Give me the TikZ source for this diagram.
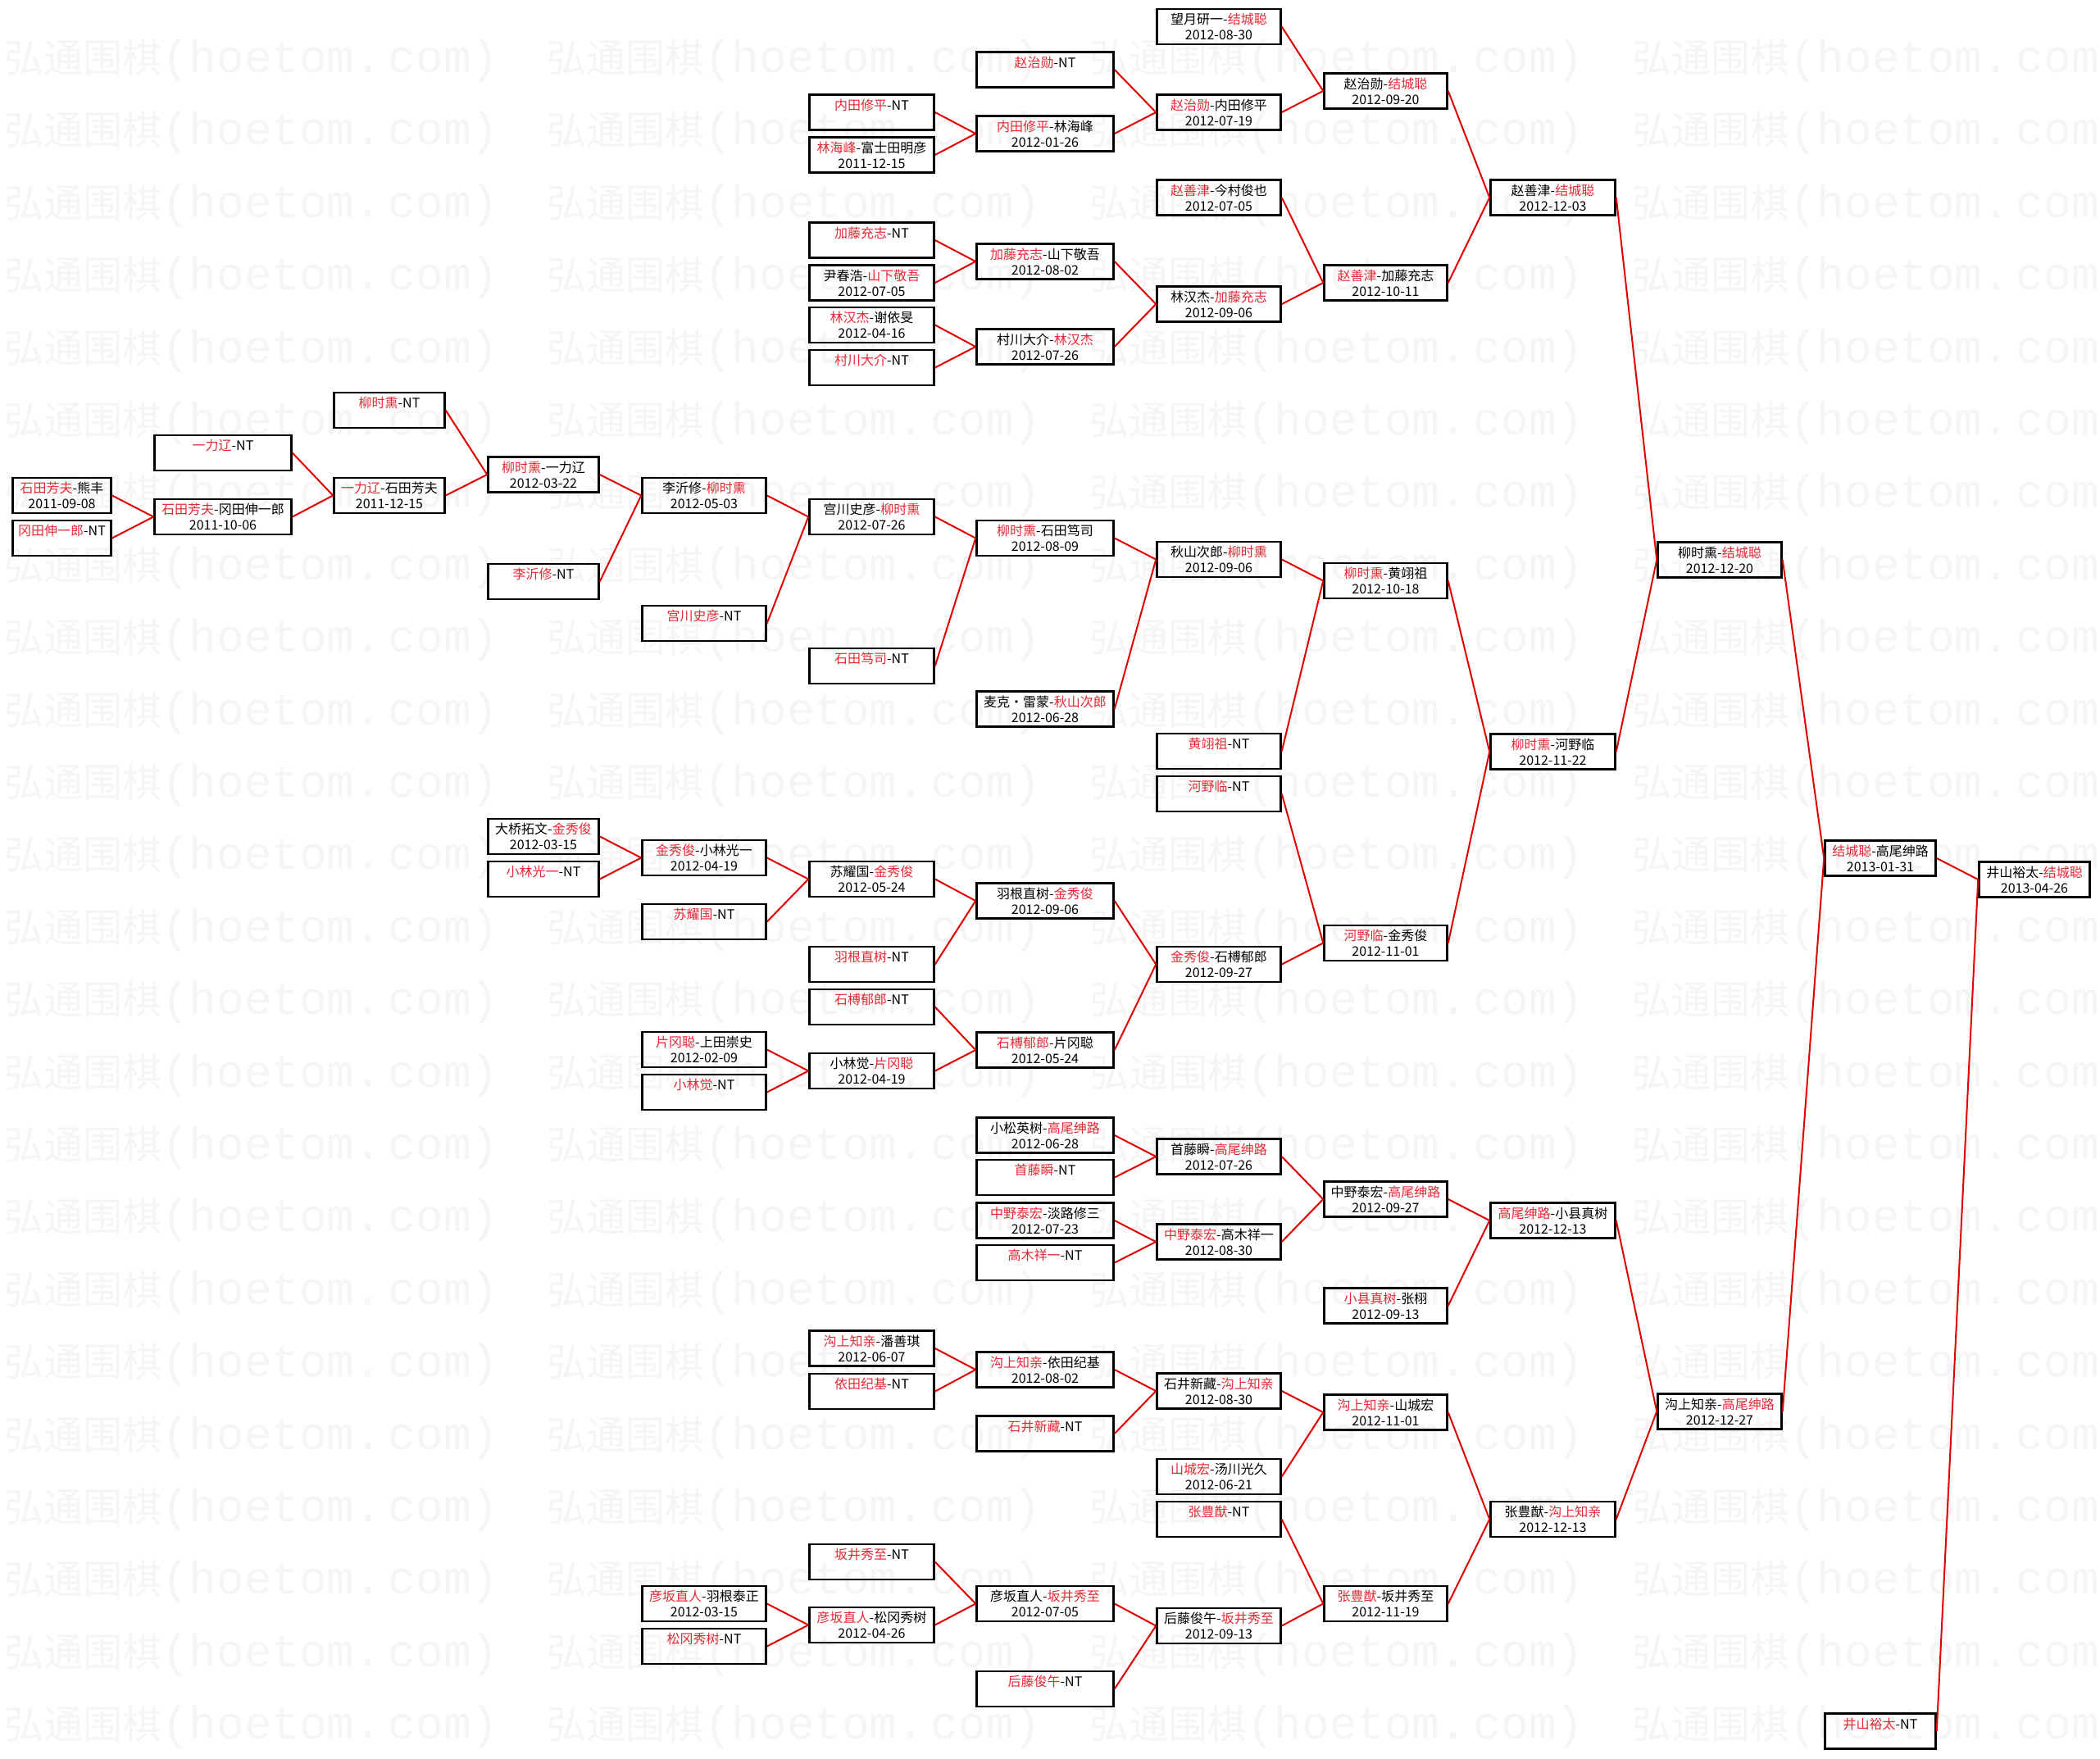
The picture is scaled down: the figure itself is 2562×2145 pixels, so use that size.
\documentclass[tikz,border=0pt]{standalone}
\usepackage{fontspec}
\setmainfont{Noto Sans CJK SC}
\newfontfamily\wmcjk{Noto Sans CJK SC}
\newfontfamily\wmlatin{Liberation Mono}
\definecolor{winred}{RGB}{228,40,52}
\definecolor{linkred}{RGB}{225,0,0}
\newcommand{\wn}[1]{\textcolor{winred}{#1}}
\begin{document}
\begin{tikzpicture}[x=1pt, y=-1pt,
    game/.style={draw, line width=2.5pt, minimum height=43pt, inner sep=0pt, align=center,
      font=\fontsize{16}{19}\selectfont},
    link/.style={draw=linkred, line width=2pt},
    wmark/.style={anchor=west, inner sep=0pt, text=black!4}]
  \fill[white] (0,0) rectangle (2562,2145);
  \useasboundingbox (0,0) rectangle (2562,2145);
  \clip (0,0) rectangle (2562,2145);
  \foreach \r in {0,...,23}
    \foreach \k in {0,...,3}
      \node[wmark] (w\r-\k) at (5+662*\k, 74+88.4*\r)
        {{\wmcjk\fontsize{48}{48}\selectfont 弘通围棋}{\wmlatin\fontsize{56}{56}\selectfont (hoetom.\hspace{8pt}com)}};
  % round 1
  \foreach \n/\y/\txt in {a1/604.5/{\wn{石田芳夫}-熊丰\\2011-09-08}, a2/656.5/{\wn{冈田伸一郎}-NT\\\mbox{}}}
    \node[game, minimum width=120pt] (\n) at (75.5,\y) {\txt};
  \foreach \n/\y/\txt in {b1/552.5/{\wn{一力辽}-NT\\\mbox{}}, b2/630.5/{\wn{石田芳夫}-冈田伸一郎\\2011-10-06}}
    \node[game, minimum width=167pt] (\n) at (272,\y) {\txt};
  \foreach \n/\y/\txt in {c1/500.5/{\wn{柳时熏}-NT\\\mbox{}}, c2/604.5/{\wn{一力辽}-石田芳夫\\2011-12-15}}
    \node[game, minimum width=135pt] (\n) at (475,\y) {\txt};
  \foreach \n/\y/\txt in {d1/579/{\wn{柳时熏}-一力辽\\2012-03-22}, d2/709.5/{\wn{李沂修}-NT\\\mbox{}},
      d3/1020.5/{大桥拓文-\wn{金秀俊}\\2012-03-15}, d4/1072.5/{\wn{小林光一}-NT\\\mbox{}}}
    \node[game, minimum width=135pt] (\n) at (663,\y) {\txt};
  \foreach \n/\y/\txt in {e1/604.5/{李沂修-\wn{柳时熏}\\2012-05-03}, e2/760.5/{\wn{宫川史彦}-NT\\\mbox{}},
      e3/1046.5/{\wn{金秀俊}-小林光一\\2012-04-19}, e4/1124.5/{\wn{苏耀国}-NT\\\mbox{}},
      e5/1280.5/{\wn{片冈聪}-上田崇史\\2012-02-09}, e6/1332.5/{\wn{小林觉}-NT\\\mbox{}},
      e7/1956.5/{\wn{彦坂直人}-羽根泰正\\2012-03-15}, e8/2008.5/{\wn{松冈秀树}-NT\\\mbox{}}}
    \node[game, minimum width=151pt] (\n) at (859,\y) {\txt};
  \foreach \n/\y/\txt in {f1/137/{\wn{内田修平}-NT\\\mbox{}}, f2/189/{\wn{林海峰}-富士田明彦\\2011-12-15},
      f3/293/{\wn{加藤充志}-NT\\\mbox{}}, f4/345/{尹春浩-\wn{山下敬吾}\\2012-07-05},
      f5/396.5/{\wn{林汉杰}-谢依旻\\2012-04-16}, f6/448.5/{\wn{村川大介}-NT\\\mbox{}},
      f7/630.5/{宫川史彦-\wn{柳时熏}\\2012-07-26}, f8/812.5/{\wn{石田笃司}-NT\\\mbox{}},
      f9/1072.5/{苏耀国-\wn{金秀俊}\\2012-05-24}, f10/1176.5/{\wn{羽根直树}-NT\\\mbox{}},
      f11/1228.5/{\wn{石榑郁郎}-NT\\\mbox{}}, f12/1306.5/{小林觉-\wn{片冈聪}\\2012-04-19},
      f13/1645/{\wn{沟上知亲}-潘善琪\\2012-06-07}, f14/1697.5/{\wn{依田纪基}-NT\\\mbox{}},
      f15/1905.5/{\wn{坂井秀至}-NT\\\mbox{}}, f16/1982.5/{\wn{彦坂直人}-松冈秀树\\2012-04-26}}
    \node[game, minimum width=152pt] (\n) at (1063.5,\y) {\txt};
  \foreach \n/\y/\txt in {g1/85/{\wn{赵治勋}-NT\\\mbox{}}, g2/163/{\wn{内田修平}-林海峰\\2012-01-26},
      g3/319/{\wn{加藤充志}-山下敬吾\\2012-08-02}, g4/423/{村川大介-\wn{林汉杰}\\2012-07-26},
      g5/656.5/{\wn{柳时熏}-石田笃司\\2012-08-09}, g6/865/{麦克·雷蒙-\wn{秋山次郎}\\2012-06-28},
      g7/1099/{羽根直树-\wn{金秀俊}\\2012-09-06}, g8/1281/{\wn{石榑郁郎}-片冈聪\\2012-05-24},
      g9/1385/{小松英树-\wn{高尾绅路}\\2012-06-28}, g10/1436.5/{\wn{首藤瞬}-NT\\\mbox{}},
      g11/1489/{\wn{中野泰宏}-淡路修三\\2012-07-23}, g12/1540.5/{\wn{高木祥一}-NT\\\mbox{}},
      g13/1671/{\wn{沟上知亲}-依田纪基\\2012-08-02}, g14/1749/{\wn{石井新藏}-NT\\\mbox{}},
      g15/1956.5/{彦坂直人-\wn{坂井秀至}\\2012-07-05}, g16/2060.5/{\wn{后藤俊午}-NT\\\mbox{}}}
    \node[game, minimum width=167pt] (\n) at (1275,\y) {\txt};
  \foreach \n/\y/\txt in {h1/32.5/{望月研一-\wn{结城聪}\\2012-08-30}, h2/137/{\wn{赵治勋}-内田修平\\2012-07-19},
      h3/241/{\wn{赵善津}-今村俊也\\2012-07-05}, h4/371/{林汉杰-\wn{加藤充志}\\2012-09-06},
      h5/682.5/{秋山次郎-\wn{柳时熏}\\2012-09-06}, h6/916.5/{\wn{黄翊祖}-NT\\\mbox{}},
      h7/968.5/{\wn{河野临}-NT\\\mbox{}}, h8/1176.5/{\wn{金秀俊}-石榑郁郎\\2012-09-27},
      h9/1411/{首藤瞬-\wn{高尾绅路}\\2012-07-26}, h10/1515/{\wn{中野泰宏}-高木祥一\\2012-08-30},
      h11/1697/{石井新藏-\wn{沟上知亲}\\2012-08-30}, h12/1801.5/{\wn{山城宏}-汤川光久\\2012-06-21},
      h13/1853.5/{\wn{张豊猷}-NT\\\mbox{}}, h14/1983.5/{后藤俊午-\wn{坂井秀至}\\2012-09-13}}
    \node[game, minimum width=151pt] (\n) at (1487,\y) {\txt};
  \foreach \n/\y/\txt in {i1/111/{赵治勋-\wn{结城聪}\\2012-09-20}, i2/345/{\wn{赵善津}-加藤充志\\2012-10-11},
      i3/708.5/{\wn{柳时熏}-黄翊祖\\2012-10-18}, i4/1150.5/{\wn{河野临}-金秀俊\\2012-11-01},
      i5/1463/{中野泰宏-\wn{高尾绅路}\\2012-09-27}, i6/1593/{\wn{小县真树}-张栩\\2012-09-13},
      i7/1723/{\wn{沟上知亲}-山城宏\\2012-11-01}, i8/1956.5/{\wn{张豊猷}-坂井秀至\\2012-11-19}}
    \node[game, minimum width=150pt] (\n) at (1690.5,\y) {\txt};
  \foreach \n/\y/\txt in {j1/241/{赵善津-\wn{结城聪}\\2012-12-03}, j2/917/{\wn{柳时熏}-河野临\\2012-11-22},
      j3/1489/{\wn{高尾绅路}-小县真树\\2012-12-13}, j4/1853.5/{张豊猷-\wn{沟上知亲}\\2012-12-13}}
    \node[game, minimum width=152pt] (\n) at (1894.5,\y) {\txt};
  \foreach \n/\y/\txt in {k1/683/{柳时熏-\wn{结城聪}\\2012-12-20}, k2/1722/{沟上知亲-\wn{高尾绅路}\\2012-12-27}}
    \node[game, minimum width=151pt] (\n) at (2098,\y) {\txt};
  \foreach \n/\y/\txt in {l1/1047/{\wn{结城聪}-高尾绅路\\2013-01-31}, l2/2112/{\wn{井山裕太}-NT\\\mbox{}}}
    \node[game, minimum width=135pt] (\n) at (2294,\y) {\txt};
  \node[game, minimum width=135pt] (m1) at (2482,1073) {井山裕太-\wn{结城聪}\\2013-04-26};
  % results
  \foreach \c/\p in {a1/b2, a2/b2, b1/c2, b2/c2, c1/d1, c2/d1, d1/e1, d2/e1, e1/f7, e2/f7,
      f7/g5, f8/g5, g5/h5, g6/h5, h5/i3, h6/i3, i3/j2, i4/j2, j1/k1, j2/k1, k1/l1, k2/l1,
      l1/m1, l2/m1, d3/e3, d4/e3, e3/f9, e4/f9, f9/g7, f10/g7, e5/f12, e6/f12, f11/g8, f12/g8,
      g7/h8, g8/h8, h7/i4, h8/i4, f1/g2, f2/g2, g1/h2, g2/h2, h1/i1, h2/i1, f3/g3, f4/g3,
      f5/g4, f6/g4, g3/h4, g4/h4, h3/i2, h4/i2, i1/j1, i2/j1, g9/h9, g10/h9, g11/h10, g12/h10,
      h9/i5, h10/i5, i5/j3, i6/j3, f13/g13, f14/g13, g13/h11, g14/h11, h11/i7, h12/i7,
      e7/f16, e8/f16, f15/g15, f16/g15, g15/h14, g16/h14, h13/i8, h14/i8, i7/j4, i8/j4,
      j3/k2, j4/k2}
    \draw[link] (\c.east) -- (\p.west);
\end{tikzpicture}
\end{document}
